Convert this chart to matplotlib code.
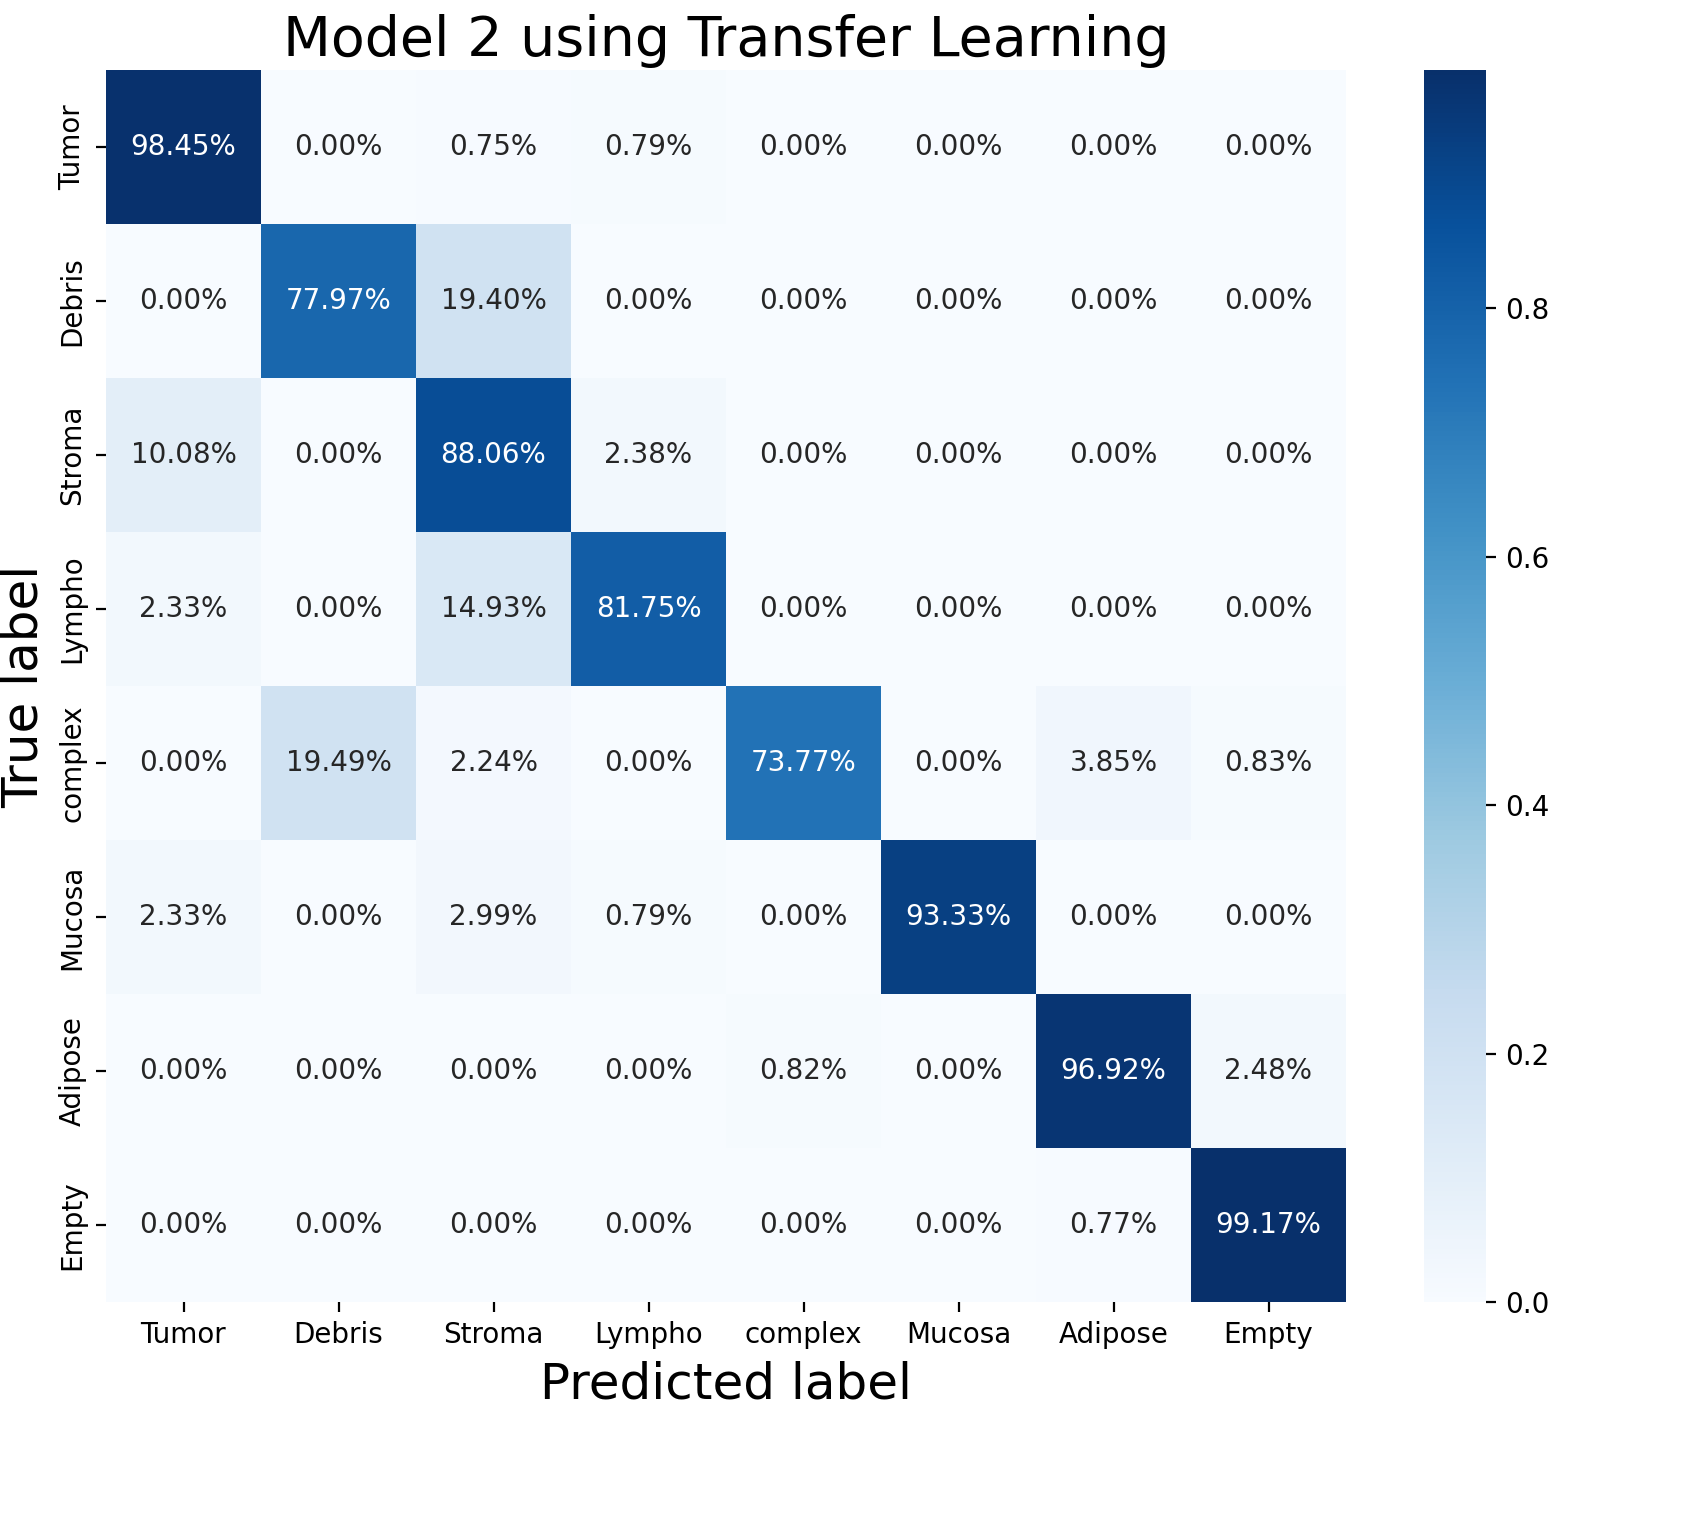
import matplotlib
matplotlib.use("Agg")
import matplotlib.pyplot as plt
import numpy as np
import seaborn as sns

labels = ['Tumor', 'Debris', 'Stroma', 'Lympho', 'complex', 'Mucosa', 'Adipose', 'Empty']

row_tumor = [98.45, 0.00, 0.75, 0.79, 0.00, 0.00, 0.00, 0.00]
row_debris = [0.00, 77.97, 19.40, 0.00, 0.00, 0.00, 0.00, 0.00]
row_stroma = [10.08, 0.00, 88.06, 2.38, 0.00, 0.00, 0.00, 0.00]
row_lympho = [2.33, 0.00, 14.93, 81.75, 0.00, 0.00, 0.00, 0.00]
row_complex = [0.00, 19.49, 2.24, 0.00, 73.77, 0.00, 3.85, 0.83]
row_mucosa = [2.33, 0.00, 2.99, 0.79, 0.00, 93.33, 0.00, 0.00]
row_adipose = [0.00, 0.00, 0.00, 0.00, 0.82, 0.00, 96.92, 2.48]
row_empty = [0.00, 0.00, 0.00, 0.00, 0.00, 0.00, 0.77, 99.17]

cm = np.array([row_tumor, row_debris, row_stroma, row_lympho,
               row_complex, row_mucosa, row_adipose, row_empty]) / 100.0

fig = plt.figure(figsize=(1698 / 200, 1516 / 200), dpi=200)
ax = fig.add_axes([106 / 1698, 1 - 1302 / 1516, 1240 / 1698, 1232 / 1516])
cax = fig.add_axes([1424 / 1698, 1 - 1302 / 1516, 62 / 1698, 1232 / 1516])

sns.heatmap(cm, annot=True, fmt='.2%', cmap='Blues', ax=ax, cbar_ax=cax,
            xticklabels=labels, yticklabels=labels, annot_kws={'fontsize': 10})

ax.set_yticklabels(labels, rotation=90, va='center')
ax.set_xticklabels(labels, rotation=0)
ax.set_title('Model 2 using Transfer Learning', fontsize=20, pad=5)
ax.set_xlabel('Predicted label', fontsize=18)
ax.set_ylabel('True label', fontsize=18)
cax.tick_params(labelsize=10)

plt.savefig('out.png', dpi=200)
